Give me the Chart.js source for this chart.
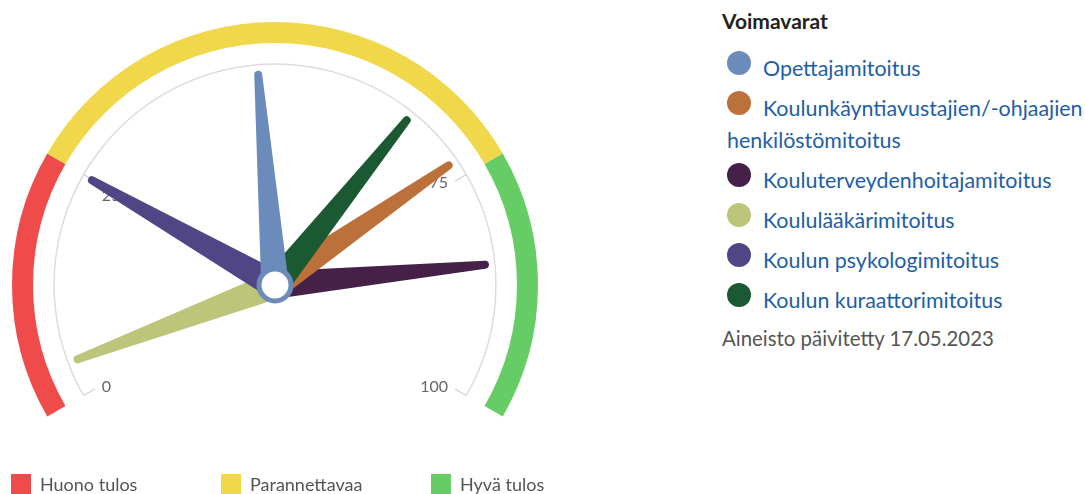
<!DOCTYPE html>
<html lang="fi">
<head>
<meta charset="utf-8">
<script src="https://cdn.jsdelivr.net/npm/chart.js@4"></script>
<style>
  html, body { margin: 0; padding: 0; background: #fff; }
  body { width: 1085px; height: 494px; position: relative; overflow: hidden; font-family: Lato, "Noto Sans", sans-serif; }
  #gauge { position: absolute; left: 0; top: 0; }
  #bandLegend { position: absolute; left: 11px; top: 474px; height: 20px; }
  .bitem { position: absolute; top: 0; white-space: nowrap; font-size: 18px; color: #555; line-height: 20px; }
  .bbox { display: inline-block; width: 20px; height: 20px; vertical-align: top; margin-right: 9px; }
  #panel { position: absolute; left: 722px; top: 0; width: 363px; }
  #panel h3 { margin: 9px 0 0 0; font-size: 21px; font-weight: bold; color: #222; line-height: 24px; }
  #series { margin-top: 19px; padding-left: 5px; }
  .sitem { font-size: 21.4px; line-height: 32px; color: #1c5ea8; margin-bottom: 8px; white-space: normal; }
  .dot { display: inline-block; width: 24px; height: 24px; border-radius: 50%; vertical-align: -2px; margin-right: 12px; position: relative; top: -3px; }
  #updated { font-size: 20.4px; color: #555; line-height: 32px; margin-top: -2px; }
</style>
</head>
<body>
<canvas id="gauge" width="560" height="494"></canvas>
<div id="bandLegend"></div>
<div id="panel">
  <h3>Voimavarat</h3>
  <div id="series"></div>
  <div id="updated">Aineisto päivitetty 17.05.2023</div>
</div>
<script>
// ---- data ----
const bandLabels = ['Huono tulos', 'Parannettavaa', 'Hyvä tulos'];
const bandValues = [25, 50, 25];
const bandColors = ['#f04b4b', '#f0d84a', '#66cd66'];

const seriesNames = [
  'Opettajamitoitus',
  'Koulunkäyntiavustajien/-ohjaajien henkilöstömitoitus',
  'Kouluterveydenhoitajamitoitus',
  'Koululääkärimitoitus',
  'Koulun psykologimitoitus',
  'Koulun kuraattorimitoitus'
];
const seriesValues = [48.1, 73.1, 85.2, 3.9, 24.9, 66.1];
const seriesColors = ['#6b8cba', '#bb7139', '#452049', '#bdc57b', '#514685', '#1b5933'];

const scaleMin = 0;
const scaleMax = 100;
const tickValues = [0, 25, 75, 100];
const tickLabels = ['0', '25', '75', '100'];

// ---- HTML legends ----
const bl = document.getElementById('bandLegend');
bandLabels.forEach((lab, i) => {
  const d = document.createElement('div');
  d.className = 'bitem';
  d.style.left = (i * 210) + 'px';
  d.innerHTML = '<span class="bbox" style="background:' + bandColors[i] + '"></span>' + lab;
  bl.appendChild(d);
});
const sl = document.getElementById('series');
seriesNames.forEach((n, i) => {
  const d = document.createElement('div');
  d.className = 'sitem';
  d.innerHTML = '<span class="dot" style="background:' + seriesColors[i] + '"></span>' + n;
  sl.appendChild(d);
});

// ---- gauge plugin: scale arc, ticks, needles, pivot ----
const drawOrder = [3, 4, 2, 1, 5, 0];
const gaugePlugin = {
  id: 'gaugeDial',
  afterDatasetsDraw(chart) {
    const meta = chart.getDatasetMeta(0);
    const first = meta.data[0];
    const last = meta.data[meta.data.length - 1];
    const cx = first.x, cy = first.y;
    const R = first.outerRadius;
    const a0 = first.startAngle, a1 = last.endAngle;
    const toAngle = v => a0 + (v - scaleMin) / (scaleMax - scaleMin) * (a1 - a0);
    const ctx = chart.ctx;
    ctx.save();
    // scale arc
    const rs = R * 0.84;
    ctx.beginPath();
    ctx.arc(cx, cy, rs, a0, a1);
    ctx.strokeStyle = '#dcdcdc';
    ctx.lineWidth = 1.5;
    ctx.stroke();
    // ticks + labels
    ctx.font = '16px Lato, "Noto Sans", sans-serif';
    ctx.fillStyle = '#666';
    ctx.textBaseline = 'middle';
    tickValues.forEach((v, i) => {
      const a = toAngle(v);
      const c = Math.cos(a), s = Math.sin(a);
      ctx.beginPath();
      ctx.moveTo(cx + c * rs, cy + s * rs);
      ctx.lineTo(cx + c * (rs - 13), cy + s * (rs - 13));
      ctx.strokeStyle = '#d0d0d0';
      ctx.lineWidth = 1.2;
      ctx.stroke();
      ctx.textAlign = c < 0 ? 'left' : 'right';
      const dyAdj = (c < 0 && s < 0) ? 13 : 0;
      ctx.fillText(tickLabels[i], cx + c * (rs - 21), cy + s * (rs - 17) + dyAdj);
    });
    // needles
    const L = rs - 10, bw = 14, tw = 4;
    drawOrder.forEach(k => {
      const a = toAngle(seriesValues[k]);
      const dx = Math.cos(a), dy = Math.sin(a);
      const nx = -dy, ny = dx;
      const tx = cx + dx * L, ty = cy + dy * L;
      ctx.beginPath();
      ctx.moveTo(cx + nx * bw - dx * 4, cy + ny * bw - dy * 4);
      ctx.lineTo(tx + nx * tw, ty + ny * tw);
      const na = Math.atan2(ny, nx);
      ctx.arc(tx, ty, tw, na, na + Math.PI, true);
      ctx.lineTo(cx - nx * bw - dx * 4, cy - ny * bw - dy * 4);
      ctx.closePath();
      ctx.fillStyle = seriesColors[k];
      ctx.fill();
    });
    // pivot
    ctx.beginPath();
    ctx.arc(cx, cy, 16, 0, Math.PI * 2);
    ctx.fillStyle = '#fff';
    ctx.fill();
    ctx.lineWidth = 5;
    ctx.strokeStyle = seriesColors[0];
    ctx.stroke();
    ctx.restore();
  }
};

new Chart(document.getElementById('gauge'), {
  type: 'doughnut',
  data: {
    labels: bandLabels,
    datasets: [{
      data: bandValues,
      backgroundColor: bandColors,
      borderWidth: 0
    }]
  },
  options: {
    responsive: false,
    animation: false,
    events: [],
    rotation: -120,
    circumference: 240,
    cutout: '92%',
    layout: { padding: { left: 12, top: 22, right: 22, bottom: 77.5 } },
    plugins: { legend: { display: false }, tooltip: { enabled: false } }
  },
  plugins: [gaugePlugin]
});
</script>
</body>
</html>
